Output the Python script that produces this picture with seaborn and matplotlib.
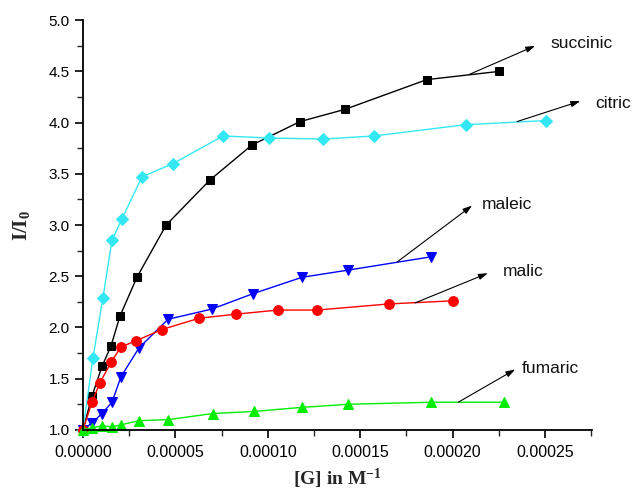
import matplotlib
matplotlib.use("Agg")
import matplotlib.pyplot as plt
import seaborn as sns
import pandas as pd
from matplotlib.ticker import MultipleLocator, FormatStrFormatter

# ---- data (x in M^-1) ----
succinic_x = [0.0, 0.49e-5, 1.03e-5, 1.52e-5, 2.0e-5, 2.92e-5, 4.5e-5, 6.87e-5, 9.13e-5, 11.74e-5, 14.18e-5, 18.6e-5, 22.5e-5]
succinic_y = [1.0, 1.33, 1.62, 1.82, 2.11, 2.49, 3.00, 3.44, 3.78, 4.01, 4.13, 4.42, 4.50]

citric_x = [0.0, 0.54e-5, 1.08e-5, 1.57e-5, 2.11e-5, 3.19e-5, 4.87e-5, 7.58e-5, 10.06e-5, 13.0e-5, 15.75e-5, 20.7e-5, 25.05e-5]
citric_y = [1.0, 1.70, 2.29, 2.85, 3.06, 3.47, 3.60, 3.87, 3.85, 3.84, 3.87, 3.98, 4.02]

maleic_x = [0.0, 0.5e-5, 1.03e-5, 1.57e-5, 2.06e-5, 3.03e-5, 4.6e-5, 6.98e-5, 9.2e-5, 11.85e-5, 14.34e-5, 18.83e-5]
maleic_y = [1.0, 1.07, 1.16, 1.27, 1.52, 1.80, 2.08, 2.18, 2.33, 2.49, 2.56, 2.69]

malic_x = [0.0, 0.49e-5, 0.92e-5, 1.52e-5, 2.06e-5, 2.87e-5, 4.27e-5, 6.28e-5, 8.28e-5, 10.55e-5, 12.66e-5, 16.56e-5, 20.0e-5]
malic_y = [1.0, 1.27, 1.46, 1.66, 1.81, 1.87, 1.98, 2.09, 2.13, 2.17, 2.17, 2.23, 2.26]

fumaric_x = [0.0, 0.5e-5, 1.03e-5, 1.57e-5, 2.06e-5, 3.03e-5, 4.6e-5, 7.03e-5, 9.25e-5, 11.85e-5, 14.34e-5, 18.83e-5, 22.78e-5]
fumaric_y = [1.0, 1.02, 1.04, 1.03, 1.05, 1.09, 1.10, 1.16, 1.18, 1.22, 1.25, 1.27, 1.27]

series_names = ["succinic", "citric", "maleic", "malic", "fumaric"]
series_x = [succinic_x, citric_x, maleic_x, malic_x, fumaric_x]
series_y = [succinic_y, citric_y, maleic_y, malic_y, fumaric_y]
colors = ["#000000", "#33E8F2", "#0000FF", "#FF0000", "#00EE00"]
markers = ["s", "D", "v", "o", "^"]
msizes = [6, 6.5, 7.5, 7, 7.5]

# annotation arrows: tail (on curve), head, text position
arrow_tail = [(20.89e-5, 4.47), (23.48e-5, 4.01), (17.0e-5, 2.64), (17.97e-5, 2.24), (20.3e-5, 1.27)]
arrow_head = [(24.46e-5, 4.75), (26.9e-5, 4.21), (21.05e-5, 3.19), (21.9e-5, 2.53), (23.38e-5, 1.59)]
text_pos = [(25.3e-5, 4.77), (27.7e-5, 4.19), (21.6e-5, 3.20), (22.7e-5, 2.55), (23.75e-5, 1.60)]

sns.set_style("ticks")
plt.rcParams["font.family"] = ["Liberation Sans", "DejaVu Sans"]
plt.rcParams["mathtext.fontset"] = "custom"
plt.rcParams["mathtext.rm"] = "Liberation Serif:bold"
plt.rcParams["mathtext.bf"] = "Liberation Serif:bold"
plt.rcParams["mathtext.it"] = "Liberation Serif:bold"
plt.rcParams["mathtext.default"] = "bf"

fig = plt.figure(figsize=(6.38, 4.93), dpi=100)
ax = fig.add_axes([0.130, 0.128, 0.798, 0.831])

for name, xs, ys, c, m, ms in zip(series_names, series_x, series_y, colors, markers, msizes):
    df = pd.DataFrame({"x": xs, "y": ys})
    sns.lineplot(data=df, x="x", y="y", ax=ax, color=c, marker=m, markersize=ms,
                 markeredgecolor=c, linewidth=1.0, clip_on=False, sort=False, legend=False)

for name, t, h, p in zip(series_names, arrow_tail, arrow_head, text_pos):
    ax.annotate("", xy=h, xytext=t,
                arrowprops=dict(arrowstyle="-|>,head_length=0.55,head_width=0.18",
                                color="black", lw=0.8, shrinkA=0, shrinkB=0))
    ax.text(p[0], p[1], name, fontsize=12.5, ha="left", va="center", color="#111111")

ax.set_xlim(0, 0.0002754)
ax.set_ylim(1.0, 5.0)
ax.xaxis.set_major_locator(MultipleLocator(0.00005))
ax.xaxis.set_minor_locator(MultipleLocator(0.000025))
ax.yaxis.set_major_locator(MultipleLocator(0.5))
ax.yaxis.set_minor_locator(MultipleLocator(0.25))
ax.xaxis.set_major_formatter(FormatStrFormatter("%.5f"))
ax.yaxis.set_major_formatter(FormatStrFormatter("%.1f"))
ax.tick_params(axis="both", which="major", direction="out", length=6, width=1.2,
               labelsize=11, colors="black")
ax.tick_params(axis="x", which="major", labelsize=11.5, pad=5)
ax.tick_params(axis="both", which="minor", direction="out", length=4, width=1.0)
for s in ["left", "bottom"]:
    ax.spines[s].set_linewidth(1.3)
    ax.spines[s].set_color("black")
sns.despine(ax=ax)

ax.set_xlabel(r"[G] in M$^{-1}$", fontsize=14, fontweight="bold",
              family="Liberation Serif", labelpad=5)
ax.set_ylabel(r"I/I$_{0}$", fontsize=15, fontweight="bold",
              family="Liberation Serif", labelpad=12)

fig.savefig("out.png", dpi=100)
